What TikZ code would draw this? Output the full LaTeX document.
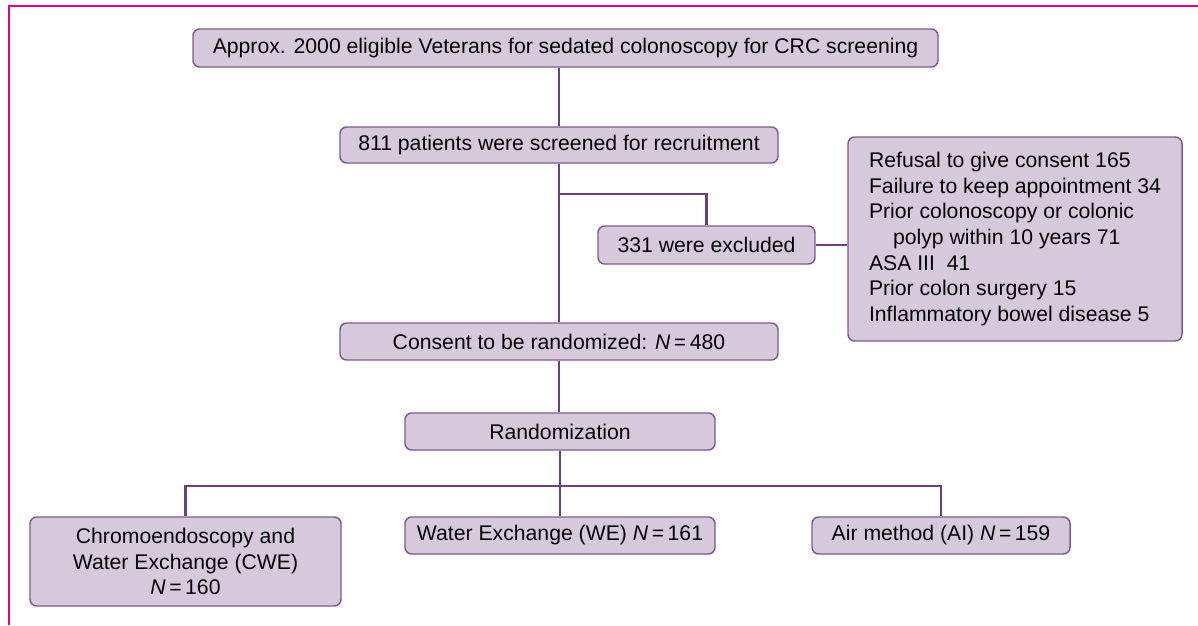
\documentclass[tikz,border=0pt]{standalone}
\usepackage{fontspec}
\setmainfont{Liberation Sans}
\definecolor{boxfill}{HTML}{D6C9DC}
\definecolor{boxdraw}{HTML}{7E5A8E}
\definecolor{linecol}{HTML}{6F3E80}
\definecolor{framecol}{HTML}{E2007A}
\tikzset{
  fbox/.style={draw=boxdraw, fill=boxfill, rounded corners=5pt, line width=1.1pt,
    inner sep=0pt, align=center, font=\fontsize{15.9}{19.2}\selectfont},
  conn/.style={draw=linecol, line width=2pt},
  framel/.style={draw=framecol, line width=2.2pt}
}
\begin{document}
\begin{tikzpicture}[x=0.75pt, y=-0.75pt]
\useasboundingbox (0,0) rectangle (1198,625);
\draw[framel] (9,625) -- (9,6) -- (1198,6);

\node[fbox, minimum width=745*0.75pt, minimum height=38*0.75pt] (b1) at (565.5,48)
  {Approx. 2000 eligible Veterans for sedated colonoscopy for CRC screening};
\node[fbox, minimum width=438*0.75pt, minimum height=36*0.75pt] (b2) at (559,145)
  {811 patients were screened for recruitment};
\node[fbox, minimum width=217*0.75pt, minimum height=38*0.75pt] (b3) at (706.5,245)
  {331 were excluded};
\node[fbox, minimum width=334*0.75pt, minimum height=204*0.75pt, align=left] (b4) at (1015,239)
  {\begin{minipage}{292\dimexpr0.75pt\relax}\fontsize{15.9}{19.2}\selectfont
  Refusal to give consent 165\\
  Failure to keep appointment 34\\
  Prior colonoscopy or colonic\\
  \hspace*{18pt}polyp within 10 years 71\\
  ASA III\ \ 41\\
  Prior colon surgery 15\\
  Inflammatory bowel disease 5\end{minipage}};
\node[fbox, minimum width=438*0.75pt, minimum height=37*0.75pt] (b5) at (559,341.5)
  {Consent to be randomized: \textit{N}\,=\,480};
\node[fbox, minimum width=310*0.75pt, minimum height=37*0.75pt] (b6) at (560,431.5)
  {Randomization};
\node[fbox, minimum width=311*0.75pt, minimum height=89*0.75pt] (b7) at (185.5,561.5)
  {Chromoendoscopy and\\Water Exchange (CWE)\\\textit{N}\,=\,160};
\node[fbox, minimum width=310*0.75pt, minimum height=37*0.75pt] (b8) at (560,535.5)
  {Water Exchange (WE) \textit{N}\,=\,161};
\node[fbox, minimum width=258*0.75pt, minimum height=37*0.75pt] (b9) at (941,535.5)
  {Air method (AI) \textit{N}\,=\,159};

\coordinate (br) at (559,194);
\coordinate (hb) at (0,486);

\draw[conn] (b2.north) -- (b2.north |- b1.south);
\draw[conn] (b2.south) -- (b5.north);
\draw[conn] (br) -| (b3.north);
\draw[conn] (b3.east) -- (b3.east -| b4.west);
\draw[conn] (b5.south) -- (b5.south |- b6.north);
\draw[conn] (b6.south) -- (b6.south |- b8.north);
\draw[conn] (b7.north) -- (b7.north |- hb) -- (b9.north |- hb) -- (b9.north);
\end{tikzpicture}
\end{document}
